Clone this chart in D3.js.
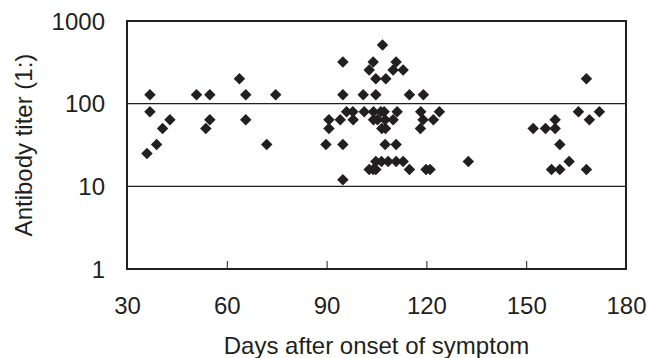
<!DOCTYPE html>
<meta charset="utf-8">
<script src="https://d3js.org/d3.v7.min.js"></script>
<style>
  body { margin: 0; background: #fff; }
  text { font-family: "Liberation Sans", Arial, sans-serif; fill: #231f20; }
</style>
<div id="chart"></div>
<script>
  // days after onset / antibody titer
  var days = [
    36.9, 36.9, 42.9, 40.7, 38.9, 36.0,
    50.9, 54.9, 54.9, 53.7,
    63.8, 65.7, 65.7, 74.7, 72.0,
    106.8, 94.9, 104.0, 110.9, 102.8, 110.0, 113.0, 104.8, 107.8,
    94.9, 101.0, 104.8, 114.9, 119.1,
    96.0, 97.9, 101.3, 104.1, 106.3, 107.3, 111.2, 118.3, 123.9,
    90.7, 94.1, 98.0, 104.1, 105.3, 107.6, 110.0, 119.0, 122.1,
    90.7, 106.6, 107.7, 118.2,
    89.8, 94.9, 107.6, 110.9,
    104.8, 106.5, 108.5, 110.9, 113.0, 132.6,
    102.8, 104.0, 104.8, 114.9, 119.9, 121.1,
    94.9,
    168.1, 165.7, 172.0, 169.0, 158.7, 152.1, 155.8, 158.7, 160.1, 162.9, 157.6, 160.1, 168.1
  ];
  var titers = [
    128, 80, 64, 50, 32, 25,
    128, 128, 64, 50,
    200, 128, 64, 128, 32,
    512, 320, 320, 320, 256, 256, 256, 200, 200,
    128, 128, 128, 128, 128,
    80, 80, 80, 80, 80, 80, 80, 80, 80,
    64, 64, 64, 64, 64, 64, 64, 64, 64,
    50, 50, 50, 50,
    32, 32, 32, 32,
    20, 20, 20, 20, 20, 20,
    16, 16, 16, 16, 16, 16,
    12,
    200, 80, 80, 64, 64, 50, 50, 50, 32, 20, 16, 16, 16
  ];
  var xTicks = [30, 60, 90, 120, 150, 180];
  var yTicks = [1, 10, 100, 1000];
  var gridValues = [10, 100];

  var margin = { top: 21, right: 24, bottom: 89, left: 127 },
      width = 650 - margin.left - margin.right,
      height = 358 - margin.top - margin.bottom;

  var svg = d3.select("#chart")
    .append("svg")
    .attr("width", 650)
    .attr("height", 358)
    .append("g")
    .attr("transform", "translate(" + margin.left + "," + margin.top + ")");

  var x = d3.scaleLinear().domain([30, 180]).range([0, width]);
  var y = d3.scaleLog().domain([1, 1000]).range([height, 0]);

  // horizontal grid lines
  svg.selectAll(".grid")
    .data(gridValues)
    .enter()
    .append("line")
    .attr("x1", 0)
    .attr("x2", width)
    .attr("y1", function (d) { return y(d); })
    .attr("y2", function (d) { return y(d); })
    .attr("stroke", "#231f20")
    .attr("stroke-width", 1.2);

  // X axis, ticks pointing inward
  var xAxis = svg.append("g")
    .attr("transform", "translate(0," + height + ")")
    .call(d3.axisBottom(x).tickValues(xTicks).tickSizeInner(-8).tickSizeOuter(0).tickPadding(28));
  xAxis.select(".domain").remove();
  xAxis.selectAll("line").attr("stroke", "#231f20").attr("stroke-width", 1);
  xAxis.selectAll("text").style("font-size", "24px").style("fill", "#231f20");

  // Y axis
  var yAxis = svg.append("g")
    .call(d3.axisLeft(y).tickValues(yTicks).tickSize(0).tickPadding(22).tickFormat(d3.format("d")));
  yAxis.select(".domain").remove();
  yAxis.selectAll("text").style("font-size", "24px").style("fill", "#231f20").attr("dy", "0.34em");

  // plot frame
  svg.append("rect")
    .attr("width", width)
    .attr("height", height)
    .attr("fill", "none")
    .attr("stroke", "#231f20")
    .attr("stroke-width", 2);

  // diamonds
  var diamond = d3.symbol().type(d3.symbolSquare).size(66);
  svg.selectAll(".pt")
    .data(days)
    .enter()
    .append("path")
    .attr("d", diamond)
    .attr("transform", function (d, i) {
      return "translate(" + x(d) + "," + y(titers[i]) + ") rotate(45)";
    })
    .attr("fill", "#231f20");

  // axis titles
  svg.append("text")
    .attr("x", width / 2)
    .attr("y", height + 85)
    .attr("text-anchor", "middle")
    .style("font-size", "24px")
    .text("Days after onset of symptom");

  svg.append("text")
    .attr("transform", "rotate(-90)")
    .attr("x", -height / 2)
    .attr("y", 32 - margin.left)
    .attr("text-anchor", "middle")
    .style("font-size", "24px")
    .text("Antibody titer (1:)");
</script>
